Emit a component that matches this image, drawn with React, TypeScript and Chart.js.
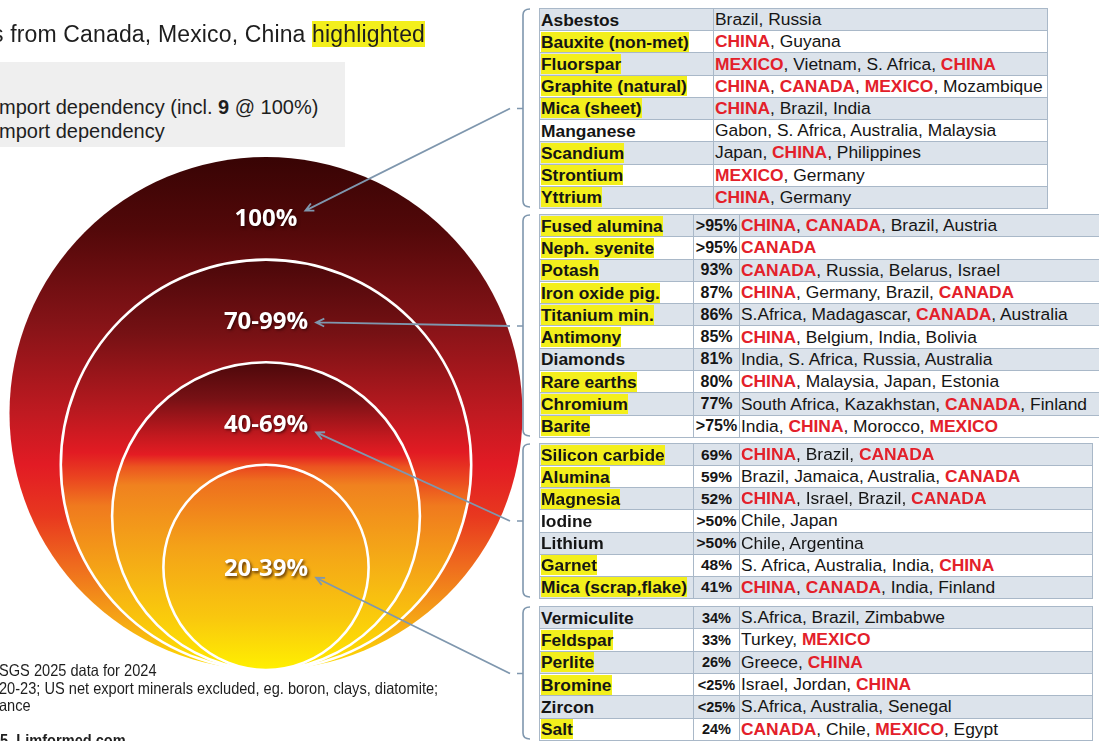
import React, { useEffect, useRef } from "react";
import { Chart, registerables } from "chart.js";

Chart.register(...registerables);

// ---------------- Data ----------------
const bandLabels = ["100%", "70-99%", "40-69%", "20-39%"];
const bandRadii = [100, 80, 60, 40];

const minerals100 = ["Asbestos", "Bauxite (non-met)", "Fluorspar", "Graphite (natural)", "Mica (sheet)", "Manganese", "Scandium", "Strontium", "Yttrium"];
const flagged100 = [false, true, true, true, true, false, true, true, true];
const sources100 = ["Brazil, Russia", "CHINA, Guyana", "MEXICO, Vietnam, S. Africa, CHINA", "CHINA, CANADA, MEXICO, Mozambique", "CHINA, Brazil, India", "Gabon, S. Africa, Australia, Malaysia", "Japan, CHINA, Philippines", "MEXICO, Germany", "CHINA, Germany"];

const minerals70 = ["Fused alumina", "Neph. syenite", "Potash", "Iron oxide pig.", "Titanium min.", "Antimony", "Diamonds", "Rare earths", "Chromium", "Barite"];
const shares70 = [">95%", ">95%", "93%", "87%", "86%", "85%", "81%", "80%", "77%", ">75%"];
const flagged70 = [true, true, true, true, true, true, false, true, true, true];
const sources70 = ["CHINA, CANADA, Brazil, Austria", "CANADA", "CANADA, Russia, Belarus, Israel", "CHINA, Germany, Brazil, CANADA", "S.Africa, Madagascar, CANADA, Australia", "CHINA, Belgium, India, Bolivia", "India, S. Africa, Russia, Australia", "CHINA, Malaysia, Japan, Estonia", "South Africa, Kazakhstan, CANADA, Finland", "India, CHINA, Morocco, MEXICO"];

const minerals40 = ["Silicon carbide", "Alumina", "Magnesia", "Iodine", "Lithium", "Garnet", "Mica (scrap,flake)"];
const shares40 = ["69%", "59%", "52%", ">50%", ">50%", "48%", "41%"];
const flagged40 = [true, true, true, false, false, true, true];
const sources40 = ["CHINA, Brazil, CANADA", "Brazil, Jamaica, Australia, CANADA", "CHINA, Israel, Brazil, CANADA", "Chile, Japan", "Chile, Argentina", "S. Africa, Australia, India, CHINA", "CHINA, CANADA, India, Finland"];

const minerals20 = ["Vermiculite", "Feldspar", "Perlite", "Bromine", "Zircon", "Salt"];
const shares20 = ["34%", "33%", "26%", "<25%", "<25%", "24%"];
const flagged20 = [false, true, true, true, false, true];
const sources20 = ["S.Africa, Brazil, Zimbabwe", "Turkey, MEXICO", "Greece, CHINA", "Israel, Jordan, CHINA", "S.Africa, Australia, Senegal", "CANADA, Chile, MEXICO, Egypt"];

const highlightCountries = ["CHINA", "CANADA", "MEXICO"];

// ---------------- Layout / style ----------------
const PAGE_W = 1099;
const PAGE_H = 741;
const UNIT_PX = 2.565;
const CENTER_X = 266;
const BASE_Y = 670;
const TABLE_LEFT = 539;
const BRACKET_X = 523;
const ARROW_START_X = 510;
const ARROW_COLOR = "#7f97ae";
const BORDER_COLOR = "#a9b8c8";
const SHADE_COLOR = "#dce3eb";
const YELLOW = "#f3ef1c";
const RED = "#e3202a";
const SANS = '"Liberation Sans", Arial, sans-serif';

const groupBoxes = [
  { top: 8, height: 201, right: 1048, nameW: 174, shareW: 0, shareFont: 16 },
  { top: 214, height: 224, right: 1130, nameW: 154, shareW: 46, shareFont: 16 },
  { top: 443, height: 156, right: 1093, nameW: 154, shareW: 46, shareFont: 15.5 },
  { top: 606, height: 135, right: 1093, nameW: 154, shareW: 46, shareFont: 14.5 },
];

const gradientStops: [number, string][][] = [
  [[0, "#380404"], [0.14, "#520809"], [0.32, "#841317"], [0.5, "#c01a21"], [0.6, "#e21b24"], [0.7, "#e8381f"], [0.8, "#ef6d1e"], [0.9, "#f5a416"], [1, "#ffe000"]],
  [[0, "#4a0709"], [0.18, "#761114"], [0.36, "#b5191f"], [0.47, "#e21b23"], [0.53, "#ea4320"], [0.6, "#f07a1e"], [0.8, "#f6b014"], [1, "#ffe400"]],
  [[0, "#4c080a"], [0.12, "#781115"], [0.24, "#c3191f"], [0.3, "#e41c23"], [0.34, "#ec5520"], [0.4, "#f0821f"], [0.7, "#f6b514"], [1, "#ffe800"]],
  [[0, "#e9401f"], [0.08, "#ee6f1e"], [0.4, "#f4a218"], [0.75, "#f9c80e"], [1, "#fff000"]],
];

const groups = [
  { minerals: minerals100, shares: null as string[] | null, flagged: flagged100, sources: sources100 },
  { minerals: minerals70, shares: shares70, flagged: flagged70, sources: sources70 },
  { minerals: minerals40, shares: shares40, flagged: flagged40, sources: sources40 },
  { minerals: minerals20, shares: shares20, flagged: flagged20, sources: sources20 },
];

function renderSources(text: string) {
  const re = new RegExp("(" + highlightCountries.join("|") + ")", "g");
  const parts = text.split(re);
  return parts.map((p, i) =>
    highlightCountries.includes(p) ? (
      <span key={i} style={{ color: RED, fontWeight: "bold" }}>{p}</span>
    ) : (
      <span key={i}>{p}</span>
    )
  );
}

function MineralTable({ gi }: { gi: number }) {
  const g = groups[gi];
  const b = groupBoxes[gi];
  const cols = g.shares
    ? `${b.nameW - 1}px ${b.shareW - 1}px 1fr`
    : `${b.nameW - 1}px 1fr`;
  const cells: React.ReactNode[] = [];
  g.minerals.forEach((m, r) => {
    const bg = r % 2 === 0 ? SHADE_COLOR : "#ffffff";
    cells.push(
      <div key={"n" + r} style={{ background: bg, paddingLeft: 1, display: "flex", alignItems: "center", fontWeight: "bold", fontSize: 17.4, whiteSpace: "nowrap", overflow: "hidden" }}>
        <span style={{ background: g.flagged[r] ? YELLOW : "transparent", lineHeight: "20px", height: 20, display: "inline-block" }}>{m}</span>
      </div>
    );
    if (g.shares) {
      cells.push(
        <div key={"s" + r} style={{ background: bg, display: "flex", alignItems: "center", justifyContent: "center", fontWeight: "bold", fontSize: b.shareFont, whiteSpace: "nowrap" }}>
          {g.shares[r]}
        </div>
      );
    }
    cells.push(
      <div key={"c" + r} style={{ background: bg, paddingLeft: 1, display: "flex", alignItems: "center", fontSize: 17.4, whiteSpace: "pre", overflow: "hidden" }}>
        <span>{renderSources(g.sources[r])}</span>
      </div>
    );
  });
  return (
    <div
      key={"t" + gi}
      style={{
        position: "absolute",
        left: TABLE_LEFT,
        top: b.top,
        width: b.right - TABLE_LEFT,
        height: b.height,
        boxSizing: "border-box",
        padding: 1,
        background: BORDER_COLOR,
        display: "grid",
        gridTemplateColumns: cols,
        gridTemplateRows: `repeat(${g.minerals.length}, 1fr)`,
        gap: 1,
        fontFamily: SANS,
        color: "#151515",
      }}
    >
      {cells}
    </div>
  );
}

function radiusPx(c: any): number {
  const ys = c.chart && c.chart.scales ? c.chart.scales.y : null;
  if (!ys) return 0;
  const r = bandRadii[c.dataIndex];
  const v = ys.getPixelForValue(0) - ys.getPixelForValue(r);
  return Number.isFinite(v) ? v : 0;
}

function fillFor(c: any): any {
  const ys = c.chart && c.chart.scales ? c.chart.scales.y : null;
  if (!ys || c.dataIndex === undefined) return "#c01a21";
  const r = bandRadii[c.dataIndex];
  const top = ys.getPixelForValue(2 * r);
  const bot = ys.getPixelForValue(0);
  if (!Number.isFinite(top) || !Number.isFinite(bot)) return "#c01a21";
  const g = c.chart.ctx.createLinearGradient(0, top, 0, bot);
  gradientStops[c.dataIndex].forEach(([o, col]) => g.addColorStop(o, col));
  return g;
}

const overlayPlugin = {
  id: "bandOverlay",
  afterDatasetsDraw(chart: any) {
    const { ctx } = chart;
    const xs = chart.scales.x;
    const ys = chart.scales.y;
    const cx = xs.getPixelForValue(0);
    ctx.save();
    ctx.strokeStyle = ARROW_COLOR;
    ctx.lineWidth = 1.6;
    groupBoxes.forEach((b) => {
      const top = b.top + 1;
      const bot = b.top + b.height - 2;
      const mid = b.top + b.height / 2;
      ctx.beginPath();
      ctx.moveTo(BRACKET_X + 7, top);
      ctx.quadraticCurveTo(BRACKET_X, top, BRACKET_X, top + 6);
      ctx.lineTo(BRACKET_X, bot - 6);
      ctx.quadraticCurveTo(BRACKET_X, bot, BRACKET_X + 7, bot);
      ctx.moveTo(BRACKET_X, mid);
      ctx.lineTo(BRACKET_X - 6, mid);
      ctx.stroke();
    });
    ctx.font = 'bold 24px "Open Sans", "DejaVu Sans", sans-serif';
    ctx.textAlign = "center";
    ctx.textBaseline = "middle";
    bandLabels.forEach((lab, i) => {
      const r = bandRadii[i];
      const last = i === bandLabels.length - 1;
      const ly = ys.getPixelForValue(last ? r : 2 * r - 23.6) + 2;
      const w = ctx.measureText(lab).width;
      const b = groupBoxes[i];
      const sy = b.top + b.height / 2;
      const tx = cx + w / 2 + 8;
      const ty = ly + (sy - ly) * 0.08;
      ctx.save();
      ctx.strokeStyle = ARROW_COLOR;
      ctx.lineWidth = 1.8;
      ctx.beginPath();
      ctx.moveTo(ARROW_START_X, sy);
      ctx.lineTo(tx, ty);
      const ang = Math.atan2(sy - ty, ARROW_START_X - tx);
      const hl = 9;
      ctx.moveTo(tx + hl * Math.cos(ang + 0.45), ty + hl * Math.sin(ang + 0.45));
      ctx.lineTo(tx, ty);
      ctx.lineTo(tx + hl * Math.cos(ang - 0.45), ty + hl * Math.sin(ang - 0.45));
      ctx.stroke();
      ctx.restore();
      ctx.save();
      ctx.shadowColor = "rgba(30,0,0,0.7)";
      ctx.shadowBlur = 3;
      ctx.shadowOffsetX = 1.5;
      ctx.shadowOffsetY = 1.5;
      ctx.fillStyle = "#ffffff";
      ctx.fillText(lab, cx, ly);
      ctx.restore();
    });
    ctx.restore();
  },
};

export default function App() {
  const canvasRef = useRef<HTMLCanvasElement>(null);

  useEffect(() => {
    const canvas = canvasRef.current;
    if (!canvas) return;
    const chart = new Chart(canvas, {
      type: "scatter",
      data: {
        labels: bandLabels,
        datasets: [
          {
            data: bandRadii.map((r) => ({ x: 0, y: r })),
            pointRadius: radiusPx,
            pointHoverRadius: radiusPx,
            pointBackgroundColor: fillFor,
            pointHoverBackgroundColor: fillFor,
            pointBorderColor: "#ffffff",
            pointBorderWidth: (c: any) => (c.dataIndex === 0 ? 0 : 2.6),
            showLine: false,
          } as any,
        ],
      },
      options: {
        responsive: false,
        animation: false,
        events: [],
        layout: { padding: 0 },
        plugins: { legend: { display: false }, tooltip: { enabled: false } },
        scales: {
          x: { type: "linear", display: false, min: -CENTER_X / UNIT_PX, max: (PAGE_W - CENTER_X) / UNIT_PX },
          y: { type: "linear", display: false, min: -(PAGE_H - BASE_Y) / UNIT_PX, max: BASE_Y / UNIT_PX },
        },
      },
      plugins: [overlayPlugin],
    });
    return () => chart.destroy();
  }, []);

  const narrow: React.CSSProperties = {
    position: "absolute",
    left: -1,
    fontFamily: SANS,
    fontSize: 16.5,
    color: "#1e1e1e",
    whiteSpace: "pre",
    transform: "scaleX(0.885)",
    transformOrigin: "0 0",
  };

  return (
    <div style={{ position: "absolute", left: 0, top: 0, width: PAGE_W, height: PAGE_H, overflow: "hidden", background: "#ffffff" }}>
      <canvas ref={canvasRef} width={PAGE_W} height={PAGE_H} style={{ position: "absolute", left: 0, top: 0 }} />
      <div style={{ position: "absolute", left: -8, top: 21, fontFamily: SANS, fontSize: 23, lineHeight: "26px", color: "#1e1e1e", whiteSpace: "pre", letterSpacing: 0.15 }}>
        {"s from Canada, Mexico, China "}
        <span style={{ background: YELLOW }}>highlighted</span>
      </div>
      <div style={{ position: "absolute", left: 0, top: 62, width: 345, height: 85, background: "#efefef" }} />
      <div style={{ position: "absolute", left: -1, top: 94.5, fontFamily: SANS, fontSize: 20, lineHeight: "24px", color: "#1e1e1e", whiteSpace: "pre" }}>
        <div>
          {"mport dependency (incl. "}
          <b>9</b>
          {" @ 100%)"}
        </div>
        <div>mport dependency</div>
      </div>
      {[0, 1, 2, 3].map((gi) => MineralTable({ gi }))}
      <div style={{ ...narrow, top: 662, lineHeight: "17.5px" }}>
        <div>SGS 2025 data for 2024</div>
        <div>20-23; US net export minerals excluded, eg. boron, clays, diatomite;</div>
        <div>ance</div>
      </div>
      <div style={{ ...narrow, left: 0, top: 731, lineHeight: "18px", fontWeight: "bold" }}>
        {"5  Limformed.com"}
      </div>
    </div>
  );
}
